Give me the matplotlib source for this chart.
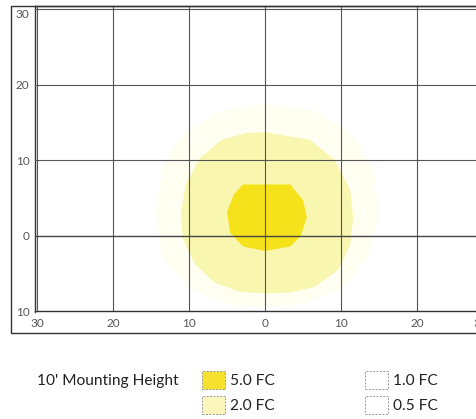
import matplotlib
matplotlib.use("Agg")
import matplotlib.pyplot as plt
from matplotlib.patches import Rectangle, Polygon

plt.rcParams['font.family'] = ['Lato', 'DejaVu Sans']

# ---- data (feet) ----
x_ticks = [-30, -20, -10, 0, 10, 20]
x_tick_labels = ["30", "20", "10", "0", "10", "20"]
x_edge_tick = [27.4]          # partly visible "30" at the right edge
x_edge_label = ["30"]
y_ticks = [-10, 0, 10, 20, 30]
y_tick_labels = ["10", "0", "10", "20", "30"]

# 5.0 FC contour outline
fc5_x = [-2.9, 3.3, 5.0, 5.5, 4.7, 3.3, 0.0, -2.9, -4.6, -5.0, -4.1]
fc5_y = [6.8, 6.8, 4.7, 2.5, 0.0, -1.4, -2.0, -1.4, 0.4, 3.2, 5.5]

# 2.0 FC contour outline
fc2_x = [0.0, 5.9, 9.2, 11.2, 11.6, 11.2, 9.6, 6.6, 3.3, 0.0, -3.3, -6.6,
         -9.2, -10.8, -11.1, -10.5, -8.6, -5.7, -2.6]
fc2_y = [13.7, 12.7, 10.0, 6.1, 2.4, -1.2, -4.5, -6.7, -7.5, -7.6, -7.4, -6.2,
         -3.8, -0.5, 2.8, 6.7, 10.3, 12.7, 13.6]

# 1.0 FC contour outline (faint)
fc1_x = [0.0, 7.0, 12.0, 14.5, 15.0, 13.5, 10.0, 5.0, 0.0, -5.0, -10.0,
         -13.5, -14.5, -13.5, -11.0, -6.0]
fc1_y = [17.5, 16.5, 13.0, 8.0, 2.5, -3.0, -7.0, -9.0, -9.5, -9.0, -7.0,
         -3.0, 3.0, 9.0, 13.5, 16.5]

legend_title = "10' Mounting Height"
legend_labels = ["5.0 FC", "2.0 FC", "1.0 FC", "0.5 FC"]
legend_colors = ["#f6e22e", "#faf6bc", "#ffffff", "#ffffff"]

W, H = 477, 419
fig = plt.figure(figsize=(W / 100, H / 100), dpi=100)

def fx(px):
    return px / W

def fy(py):
    return 1 - py / H

ax = fig.add_axes([fx(35), fy(311.5), fx(477) - fx(35), fy(6) - fy(311.5)])

ax.add_patch(Polygon(list(zip(fc1_x, fc1_y)), closed=True, facecolor="#fefef1",
                     edgecolor="none", zorder=1))
ax.add_patch(Polygon(list(zip(fc2_x, fc2_y)), closed=True, facecolor="#f9f6b0",
                     edgecolor="none", zorder=2))
ax.add_patch(Polygon(list(zip(fc5_x, fc5_y)), closed=True, facecolor="#f6e21a",
                     edgecolor="none", zorder=3))

grid_col = "#555555"
for xv in x_ticks:
    ax.axvline(xv, color=grid_col, lw=0.8, zorder=4)
for yv in y_ticks:
    ax.axhline(yv, color="#444444" if yv == 0 else grid_col,
               lw=1.0 if yv == 0 else 0.8, zorder=4)

ax.set_xticks(x_ticks)
ax.set_xticklabels(x_tick_labels)
ax.set_xticks(x_edge_tick, minor=True)
ax.set_xticklabels(x_edge_label, minor=True)
ax.set_yticks(y_ticks)
ax.set_yticklabels(y_tick_labels)
ax.set_xlim(-30.3, 27.9)
ax.set_ylim(-10, 30.4)
ax.tick_params(which='both', length=0, labelsize=8.5, colors="#555555", pad=5)
ax.tick_params(axis='y', pad=4)
for lab in ax.get_xticklabels(minor=True):
    lab.set_ha('left')
labs = ax.get_yticklabels()
labs[-1].set_va('top')

for s in ["left", "bottom", "top"]:
    ax.spines[s].set_color("#333333")
    ax.spines[s].set_linewidth(1.0)
ax.spines["right"].set_visible(False)

# outer frame
fig.add_artist(Rectangle((fx(11), fy(333)), fx(490) - fx(11), fy(6) - fy(333),
                         transform=fig.transFigure, fill=False,
                         edgecolor="#333333", lw=1.0, clip_on=False))

# legend
fig.text(fx(37), fy(381), legend_title, fontsize=11.2, color="#222222",
         va="center", ha="left")
sw_pos = [(202, 371), (202, 396), (365, 371), (365, 396)]
for (px, py), lab, col in zip(sw_pos, legend_labels, legend_colors):
    fig.add_artist(Rectangle((fx(px), fy(py + 18)), fx(23), fy(0) - fy(18),
                             transform=fig.transFigure, facecolor=col,
                             edgecolor="#999999", lw=0.7, linestyle=(0, (2, 1.5))))
    fig.text(fx(px + 28), fy(py + 9.5), lab, fontsize=11.2, color="#222222",
             va="center", ha="left")

fig.savefig("out.png", dpi=100)
